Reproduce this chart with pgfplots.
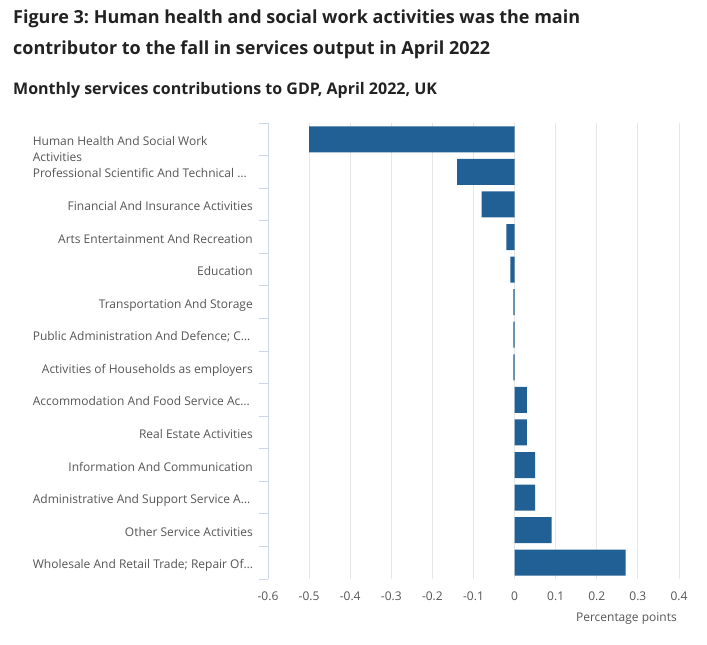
\documentclass[border=0pt]{standalone}
\usepackage{pgfplots}
\pgfplotsset{compat=1.18}
\usepackage{fontspec}
\setmainfont{Open Sans}
\frenchspacing
\definecolor{barblue}{HTML}{206095}
\definecolor{gridc}{HTML}{E6E6E6}
\definecolor{axc}{HTML}{CCD6EB}
\definecolor{lab}{HTML}{555555}
\definecolor{titc}{HTML}{222222}
\newcommand{\lbox}[1]{\makebox[220bp][l]{#1}}
\begin{document}
\begin{tikzpicture}
\path[use as bounding box] (0,0) rectangle (707bp,-645bp);
\node[anchor=west, inner sep=0pt, text=titc, font=\fontsize{18bp}{22bp}\selectfont\bfseries] at (13bp,-18.5bp) {Figure 3: Human health and social work activities was the main};
\node[anchor=west, inner sep=0pt, text=titc, font=\fontsize{18bp}{22bp}\selectfont\bfseries] at (13bp,-50bp) {contributor to the fall in services output in April 2022};
\node[anchor=west, inner sep=0pt, text=titc, font=\fontsize{16bp}{20bp}\selectfont\bfseries] at (13bp,-90.5bp) {Monthly services contributions to GDP, April 2022, UK};
\begin{axis}[
  at={(268bp,-579bp)}, anchor=south west,
  scale only axis, width=411bp, height=456bp,
  xmin=-0.6, xmax=0.4,
  ymin=-0.5, ymax=13.5, y dir=reverse,
  xtick={-0.6,-0.5,...,0.41},
  xticklabel style={/pgf/number format/fixed,/pgf/number format/precision=1},
  /pgf/number format/assume math mode=true,
  ytick={0,...,13},
  yticklabels={
    {\lbox{\begin{tabular}[t]{@{}l@{}}Human Health And Social Work\\Activities\end{tabular}}},
    \lbox{Professional Scientific And Technical \dots},
    Financial And Insurance Activities,
    Arts Entertainment And Recreation,
    Education,
    Transportation And Storage,
    \lbox{Public Administration And Defence; C\dots},
    Activities of Households as employers,
    \lbox{Accommodation And Food Service Ac\dots},
    Real Estate Activities,
    Information And Communication,
    \lbox{Administrative And Support Service A\dots},
    Other Service Activities,
    \lbox{Wholesale And Retail Trade; Repair Of\dots}},
  minor ytick={-0.5,0.5,...,13.6},
  ytick pos=left,
  major tick length=0pt,
  minor tick length=9bp,
  tick align=outside,
  minor tick style={axc, line width=1bp},
  xmajorgrids, grid style={gridc, line width=1bp},
  axis line style={draw=none},
  yticklabel style={anchor=base east, inner sep=0pt, xshift=-15bp, yshift=-6bp, text=lab, font=\fontsize{12bp}{16bp}\selectfont},
  xticklabel style={anchor=north, inner sep=0pt, yshift=-13bp, text=lab, font=\fontsize{12bp}{14bp}\selectfont},
  xbar, bar width=26bp,
  clip=false,
  extra description/.code={\draw[axc, line width=1bp] (rel axis cs:0,0) -- (rel axis cs:0,1);},
]
\addplot[draw=none, fill=barblue] coordinates {
(-0.50,0) (-0.14,1) (-0.08,2) (-0.02,3) (-0.01,4) (-0.003,5) (-0.003,6) (-0.003,7)
(0.03,8) (0.03,9) (0.05,10) (0.05,11) (0.09,12) (0.27,13)};
\end{axis}
\node[anchor=east, inner sep=0pt, text=lab, font=\fontsize{12bp}{14bp}\selectfont] at (677bp,-619bp) {Percentage points};
\end{tikzpicture}
\end{document}
